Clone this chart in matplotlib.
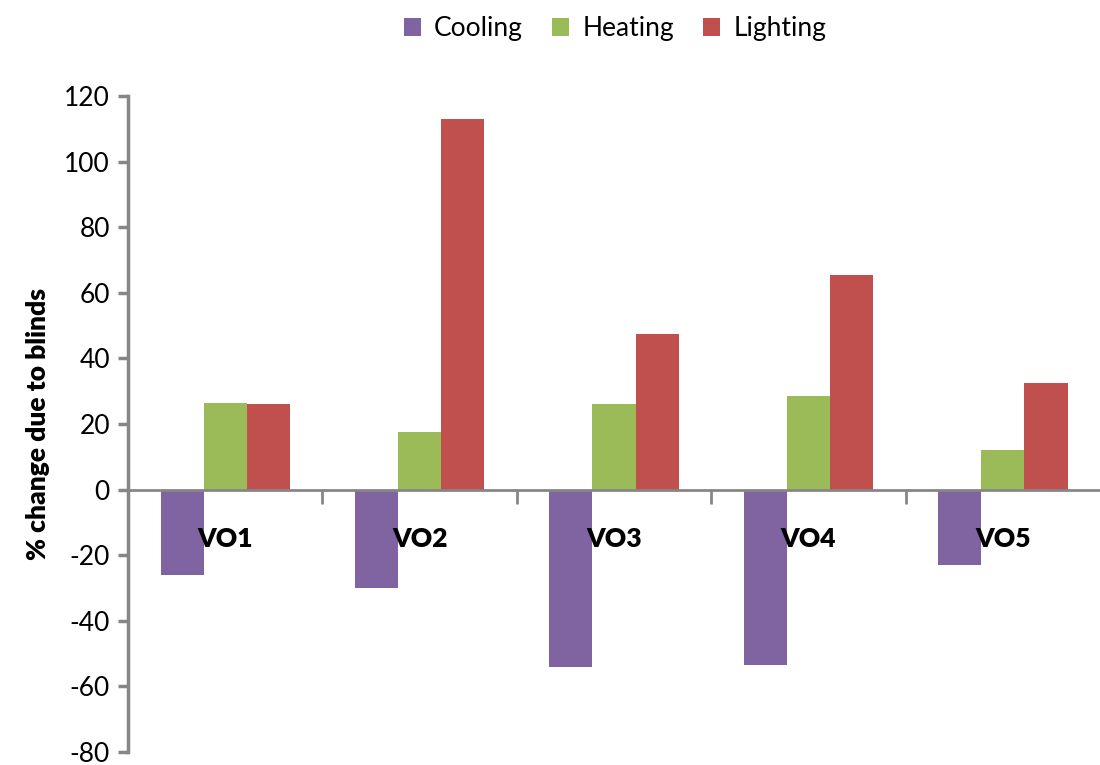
import matplotlib.pyplot as plt
import numpy as np

plt.rcParams['font.family'] = ['Lato', 'DejaVu Sans']
plt.rcParams['axes.unicode_minus'] = False

# % change in energy use caused by blinds, per office variant
categories = ['VO1', 'VO2', 'VO3', 'VO4', 'VO5']
cooling = [-26, -30, -54, -53.5, -23]
heating = [26.5, 17.5, 26, 28.5, 12]
lighting = [26, 113, 47.5, 65.5, 32.5]

series = [('Cooling', cooling, '#8064A2'),
          ('Heating', heating, '#9BBB59'),
          ('Lighting', lighting, '#C0504D')]

fig = plt.figure(figsize=(11, 7.65), dpi=100)
ax = fig.add_axes([0.1164, 0.017, 0.8836, 0.8575])

x = np.arange(len(categories))
w = 0.222
for i, (name, vals, col) in enumerate(series):
    ax.bar(x + (i - 1) * w, vals, width=w, color=col, label=name)

ax.set_xlim(-0.5, len(categories) - 0.5)
ax.set_ylim(-80, 120)
ax.set_yticks(range(-80, 121, 20))

axis_col = '#868686'
for s in ['top', 'right']:
    ax.spines[s].set_visible(False)
ax.spines['bottom'].set_position(('data', 0))
ax.spines['bottom'].set_color(axis_col)
ax.spines['bottom'].set_linewidth(2)
ax.spines['left'].set_color(axis_col)
ax.spines['left'].set_linewidth(2.5)

# category dividers as major ticks, names on minor ticks
ax.set_xticks(np.arange(0.5, len(categories) - 0.5, 1))
ax.set_xticklabels([])
ax.tick_params(axis='x', which='major', direction='out', length=10, width=2, color=axis_col)
ax.set_xticks(x, minor=True)
ax.set_xticklabels(categories, minor=True, fontsize=19, fontweight='heavy')
ax.tick_params(axis='x', which='minor', length=0, pad=27)

ax.tick_params(axis='y', direction='out', length=7, width=2.5, color=axis_col,
               labelsize=19, pad=6)

ax.set_ylabel('% change due to blinds', fontsize=19, fontweight='heavy', labelpad=10)

fig.legend(loc='upper center', bbox_to_anchor=(0.559, 1.01), ncol=3, frameon=False,
           fontsize=19, handlelength=0.65, handleheight=0.65, handletextpad=0.5,
           columnspacing=1.1)

fig.savefig('out.png', dpi=100)
